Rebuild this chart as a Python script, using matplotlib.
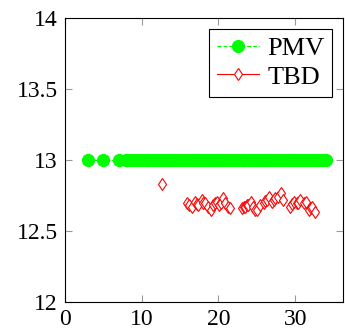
import matplotlib.pyplot as plt
from matplotlib.lines import Line2D

plt.rcParams['font.family'] = ['Liberation Serif', 'DejaVu Serif']
plt.rcParams['font.size'] = 17

# PMV series (constant 13)
pmv_x = [3, 5, 7, 8, 8.5, 9, 9.5, 10, 10.5, 11, 11.5, 12, 12.5, 13, 13.5, 14, 14.5,
         15, 15.5, 16, 16.5, 17, 17.5, 18, 18.5, 19, 19.5, 20, 20.5, 21, 21.5, 22,
         22.5, 23, 23.5, 24, 24.5, 25, 25.5, 26, 26.5, 27, 27.5, 28, 28.5, 29, 29.5,
         30, 30.5, 31, 31.5, 32, 32.5, 33, 33.5, 34]
pmv_y = [13.0] * len(pmv_x)

# TBD series
tbd_x = [12.6, 15.86, 16.2, 16.51, 16.95, 17.2, 17.38, 17.82, 18.0, 18.25, 18.69, 18.99,
         19.34, 19.6, 19.77, 20.12, 20.3, 20.56, 20.86, 21.29, 21.51,
         23.03, 23.3, 23.47, 23.7, 23.90, 24.21, 24.55, 24.8, 24.99, 25.42, 25.86, 26.1,
         26.29, 26.64, 26.95, 27.2, 27.38, 27.81, 28.12, 28.46, 29.34, 29.6, 29.77,
         30.20, 30.4, 30.64, 31.07, 31.42, 31.72, 32.0, 32.16, 32.59]
tbd_y = [12.83, 12.695, 12.68, 12.671, 12.707, 12.69, 12.683, 12.718, 12.70, 12.695, 12.671, 12.648,
         12.683, 12.70, 12.707, 12.683, 12.70, 12.730, 12.695, 12.671, 12.660,
         12.660, 12.67, 12.671, 12.68, 12.683, 12.707, 12.671, 12.65, 12.648, 12.683, 12.695, 12.71,
         12.718, 12.742, 12.707, 12.72, 12.730, 12.742, 12.765, 12.718, 12.671, 12.69, 12.707,
         12.695, 12.70, 12.718, 12.695, 12.707, 12.648, 12.66, 12.671, 12.636]

fig = plt.figure(figsize=(3.45, 3.34), dpi=100)
ax = fig.add_axes([0.188, 0.096, 0.806, 0.85])

ax.plot(pmv_x, pmv_y, '--', color=(0, 1, 0), marker='o', markersize=8.5,
        linewidth=0.8, label='PMV')
ax.plot(tbd_x, tbd_y, color='red', marker='d', markersize=6, markerfacecolor='white',
        markeredgewidth=0.8, linewidth=0, label='TBD')

ax.set_xlim(0, 36.2)
ax.set_ylim(12, 14)
ax.set_xticks([0, 10, 20, 30])
ax.set_yticks([12, 12.5, 13, 13.5, 14])
ax.set_yticklabels(['12', '12.5', '13', '13.5', '14'])
ax.tick_params(direction='in', length=5, color='#999999', top=True, right=True,
               width=0.8, pad=5)
for s in ax.spines.values():
    s.set_linewidth(0.8)

h, l = ax.get_legend_handles_labels()
h2 = [Line2D([], [], color=(0, 1, 0), linestyle='--', marker='o', markersize=8.5, linewidth=0.8),
      Line2D([], [], color='red', marker='d', markersize=6, markerfacecolor='white',
             markeredgewidth=0.8, linewidth=0.8)]
leg = ax.legend(h2, l, loc='upper right', fancybox=False, edgecolor='black',
                framealpha=1, borderaxespad=0.4, handlelength=1.6, fontsize=19,
                borderpad=0.3, labelspacing=0.2, handletextpad=0.3)
leg.get_frame().set_linewidth(0.8)

plt.savefig('out.png')
